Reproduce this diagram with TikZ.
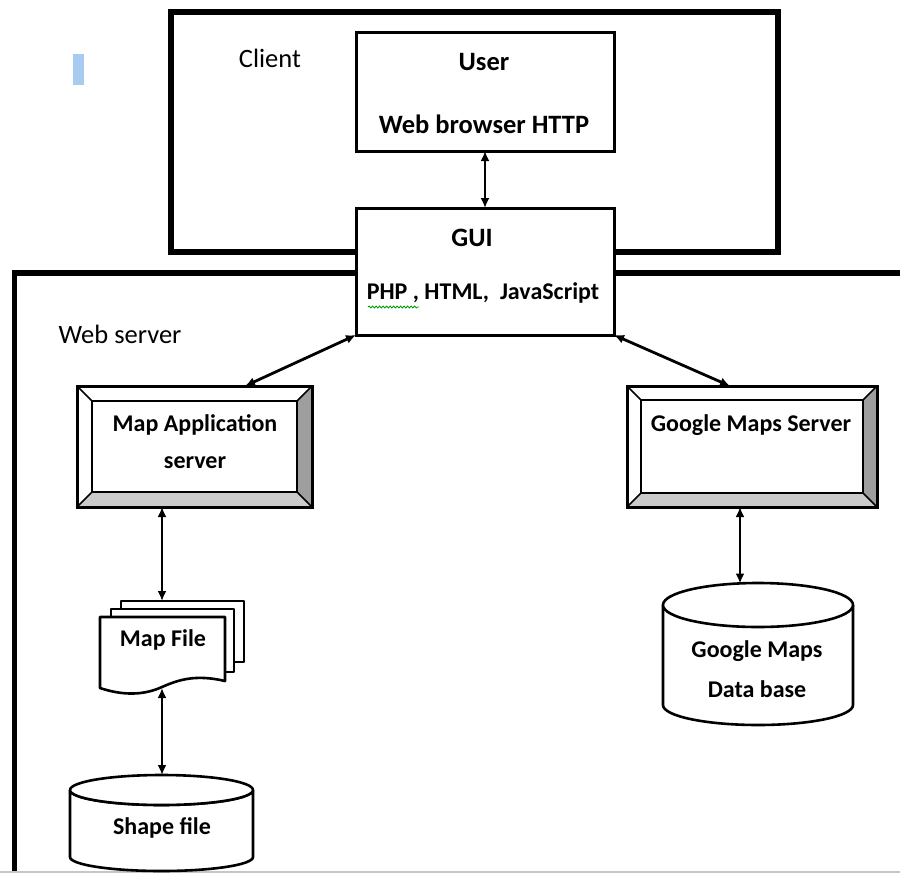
\documentclass[tikz,border=0pt]{standalone}
\usepackage{fontspec}
\setmainfont{Carlito}
\usetikzlibrary{arrows.meta,calc,decorations.pathmorphing}
\definecolor{bevdark}{HTML}{9E9E9E}
\definecolor{bevlight}{HTML}{CBCBCB}
\definecolor{markblue}{HTML}{A8CBF0}
\tikzset{
  lbl/.style={font=\fontsize{24}{28}\selectfont\bfseries, inner sep=0pt, anchor=center},
  biglbl/.style={font=\fontsize{26.5}{30}\selectfont\bfseries, inner sep=0pt, anchor=center},
  plainlbl/.style={font=\fontsize{26.5}{30}\selectfont, inner sep=0pt, anchor=center},
  tbox/.style={draw, line width=3pt, fill=white, inner sep=0pt, outer sep=0pt},
  bbox/.style={draw, line width=3pt, fill=white, inner sep=0pt, outer sep=0pt},
  frame/.style={line width=5.5pt, line cap=rect},
  dbl/.style={line width=2.8pt, {Latex[length=10pt,width=9pt]}-{Latex[length=10pt,width=9pt]}},
  shp/.style={draw, line width=2.6pt, fill=white, line join=round}
}
\newcommand\bevelize[2]{%
  % #1 node name, #2 bevel size
  \coordinate (#1-o1) at (#1.north west);
  \coordinate (#1-o2) at (#1.north east);
  \coordinate (#1-o3) at (#1.south east);
  \coordinate (#1-o4) at (#1.south west);
  \coordinate (#1-i1) at ($(#1.north west)+(#2,#2)$);
  \coordinate (#1-i2) at ($(#1.north east)+(-#2,#2)$);
  \coordinate (#1-i3) at ($(#1.south east)+(-#2,-#2)$);
  \coordinate (#1-i4) at ($(#1.south west)+(#2,-#2)$);
  \fill[bevdark] (#1-o2) -- (#1-o3) -- (#1-i3) -- (#1-i2) -- cycle;
  \fill[bevlight] (#1-o3) -- (#1-o4) -- (#1-i4) -- (#1-i3) -- cycle;
  \draw[line width=2.4pt] (#1-i1) rectangle (#1-i3);
  \draw[line width=1.6pt] (#1-o1) -- (#1-i1) (#1-o2) -- (#1-i2) (#1-o3) -- (#1-i3) (#1-o4) -- (#1-i4);
  \draw[line width=3pt] (#1-o1) rectangle (#1-o3);
}
\begin{document}
\begin{tikzpicture}[x=1pt,y=-1pt]
\useasboundingbox (0,0) rectangle (900,873);
\clip (0,0) rectangle (900,873);
\fill[white] (0,0) rectangle (900,873);

% blue mark
\fill[markblue] (73,54) rectangle (84,85);

% frames
\draw[frame] (14.5,890) -- (14.5,273) -- (910,273);
\draw[frame] (171,12) rectangle (778,252);
\draw[gray!45, line width=1.5pt] (0,872) -- (900,872);

\node[plainlbl] (clientlbl) at (270,58) {Client};
\node[plainlbl] (weblbl) at (120,334) {Web server};

% user and GUI boxes
\node[tbox, minimum width=258pt, minimum height=119pt] (user) at (485,91.5) {};
\node[biglbl] (usert) at (484,62) {User};
\node[biglbl] (usert2) at (484,124) {Web browser HTTP};

\node[tbox, minimum width=258pt, minimum height=127pt] (gui) at (485,271.5) {};
\node[biglbl] (guit) at (472,238) {GUI};
\node[lbl] (guit2) at (483,293) {PHP , HTML,\ \ JavaScript};
\draw[green!60!black, line width=0.8pt, decorate, decoration={snake, segment length=3.5pt, amplitude=1pt}] (368,307) -- (419,307);

% bevel boxes
\node[bbox, minimum width=235pt, minimum height=121pt] (mas) at (194.5,446.5) {};
\bevelize{mas}{15}
\node[lbl] (mast) at (195,425) {Map Application};
\node[lbl] (mast2) at (195,463) {server};

\node[bbox, minimum width=250pt, minimum height=121pt] (gms) at (752,446.5) {};
\bevelize{gms}{14}
\node[lbl] (gmst) at (751,425) {Google Maps Server};

% map file (multi-document)
\draw[shp] (121,601) rectangle (244,662);
\draw[shp] (111,609) rectangle (234,672);
\draw[shp] (100,617) -- (225,617) -- (225,681)
   .. controls (195,674) and (178,680) .. (162,687)
   .. controls (140,697) and (118,694) .. (100,688) -- cycle;
\coordinate (mftop) at (162,601);
\coordinate (mfbot) at (162,688);
\node[lbl] (mft) at (163,640) {Map File};

% shape file cylinder
\draw[shp] (70,790) -- (70,857) arc[start angle=180, end angle=360, x radius=91.5, y radius=-14] -- (253,790)
  arc[start angle=0, end angle=-180, x radius=91.5, y radius=-15];
\draw[shp] (161.5,790) ellipse[x radius=91.5, y radius=15];
\coordinate (sftop) at (162,775);
\node[lbl] (sft) at (162,828) {Shape file};

% google db cylinder
\draw[shp] (663,605) -- (663,705) arc[start angle=180, end angle=360, x radius=95, y radius=-20] -- (853,605);
\draw[shp] (758,605) ellipse[x radius=95, y radius=22];
\coordinate (dbtop) at (740,583.5);
\node[lbl] (dbt) at (757,651) {Google Maps};
\node[lbl] (dbt2) at (757,689) {Data base};

% connectors
\draw[dbl] (user.south) -- (gui.north);
\draw[dbl] (gui.south west) -- ($(mas.north)+(50.5,0)$);
\draw[dbl] (gui.south east) -- ($(gms.north)+(-22,0)$);
\draw[dbl] ($(mas.south)+(-32.5,0)$) -- (mftop);
\draw[dbl] (mfbot) -- (sftop);
\draw[dbl] ($(gms.south)+(-12,0)$) -- (dbtop);
\end{tikzpicture}
\end{document}
